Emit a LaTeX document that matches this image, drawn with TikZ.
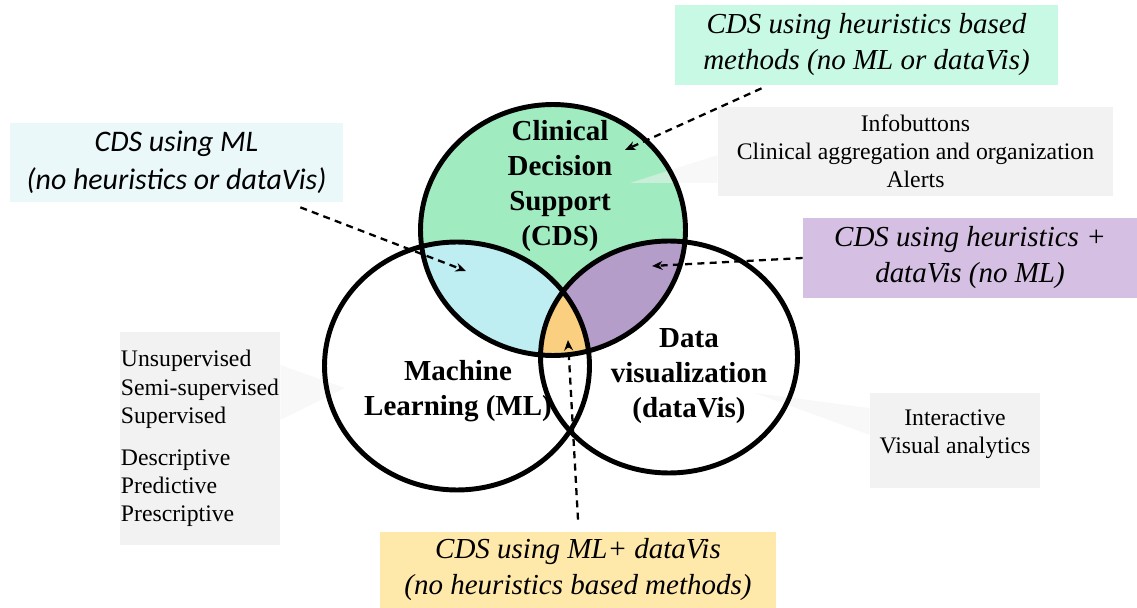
\documentclass[tikz,border=0pt]{standalone}
\usepackage{fontspec}
\setmainfont{Liberation Serif}
\newfontfamily\calibrifont{Carlito}
\usetikzlibrary{arrows.meta}

\definecolor{cdsgreen}{RGB}{160,236,192}
\definecolor{cdscyan}{RGB}{190,237,242}
\definecolor{cdspurple}{RGB}{181,157,201}
\definecolor{cdsorange}{RGB}{250,207,128}
\definecolor{mintbox}{RGB}{200,249,228}
\definecolor{cyanbox}{RGB}{234,248,250}
\definecolor{lilacbox}{RGB}{213,192,227}
\definecolor{sandbox}{RGB}{255,233,170}
\definecolor{boxgrey}{RGB}{242,242,242}

\tikzset{
  venn/.style={line width=2.8pt},
  setname/.style={align=center, font=\fontsize{16.5}{20}\selectfont\bfseries},
  notebox/.style={fill=boxgrey, align=center, inner sep=0pt, font=\fontsize{13.5}{16}\selectfont},
  casebox/.style={align=center, inner sep=0pt, font=\fontsize{16.5}{20.5}\selectfont\itshape},
  hint/.style={dash pattern=on 4pt off 3pt, line width=1.3pt, -{Stealth[length=6pt,width=5pt]}},
  wedge/.style={fill=boxgrey, opacity=.5}
}

\begin{document}
\begin{tikzpicture}[x=0.02cm, y=-0.02cm]
    \useasboundingbox (0,0) rectangle (1137,608);
    % centres of the three sets
    \coordinate (cdsc) at (553,230);
    \coordinate (mlc) at (457,366);
    \coordinate (dvc) at (669,357);

    % region fills
    \fill[cdsgreen] (cdsc) ellipse [x radius=2.65cm, y radius=2.51cm];
    \begin{scope}
        \clip (mlc) ellipse [x radius=2.65cm, y radius=2.48cm];
        \fill[cdscyan] (cdsc) ellipse [x radius=2.65cm, y radius=2.51cm];
    \end{scope}
    \begin{scope}
        \clip (dvc) ellipse [x radius=2.57cm, y radius=2.32cm];
        \fill[cdspurple] (cdsc) ellipse [x radius=2.65cm, y radius=2.51cm];
    \end{scope}
    \begin{scope}
        \clip (mlc) ellipse [x radius=2.65cm, y radius=2.48cm];
        \clip (dvc) ellipse [x radius=2.57cm, y radius=2.32cm];
        \fill[cdsorange] (cdsc) ellipse [x radius=2.65cm, y radius=2.51cm];
    \end{scope}

    % grey boxes with their pointers
    \node[notebox, minimum width=7.9cm, minimum height=1.78cm] (infobox) at (915.5,151.5)
        {Infobuttons\\Clinical aggregation and organization\\Alerts};
    \node[notebox, minimum width=3.2cm, minimum height=4.26cm, align=left] (learnbox) at (200,438.5)
        {Unsupervised\\Semi-supervised\\Supervised\\[8pt]Descriptive\\Predictive\\Prescriptive};
    \node[notebox, minimum width=3.4cm, minimum height=1.9cm] (visbox) at (955,440.5) {};
    \node[align=center, inner sep=0pt, font=\fontsize{13.5}{16}\selectfont] (vistext) at (955,434)
        {Interactive\\Visual analytics};
    \fill[wedge] (infobox.west |- 0,155) -- (630,183) -- (infobox.west |- 0,183) -- cycle;
    \fill[wedge] (learnbox.east |- 0,365) -- (345,388) -- (learnbox.east |- 0,420) -- cycle;
    \fill[wedge] (visbox.west |- 0,408) -- (755,393) -- (visbox.west |- 0,435) -- cycle;

    % outlines
    \draw[venn] (cdsc) ellipse [x radius=2.65cm, y radius=2.51cm];
    \draw[venn] (mlc) ellipse [x radius=2.65cm, y radius=2.48cm];
    \draw[venn] (dvc) ellipse [x radius=2.57cm, y radius=2.32cm];

    \node[setname] (cdsname) at (560,186) {Clinical\\Decision\\Support\\(CDS)};
    \node[setname] (mlname) at (458,391) {Machine\\Learning (ML)};
    \node[setname] (dvname) at (689,376) {Data\\visualization\\(dataVis)};

    % the four cases
    \node[casebox, fill=mintbox, minimum width=7.66cm, minimum height=1.6cm] (topbox) at (866.5,45)
        {CDS using heuristics based\\methods (no ML or dataVis)};
    \node[casebox, fill=cyanbox, minimum width=6.66cm, minimum height=1.58cm,
          font=\fontsize{17}{21.5}\selectfont\calibrifont\itshape] (mlbox) at (176.5,162.5)
        {CDS using ML\\(no heuristics or dataVis)};
    \node[casebox, fill=lilacbox, minimum width=6.68cm, minimum height=1.6cm] (lilacbox) at (970,258)
        {CDS using heuristics +\\dataVis (no ML)};
    \node[casebox, fill=sandbox, minimum width=7.92cm, minimum height=1.52cm] (bottombox) at (578,570)
        {CDS using ML+ dataVis\\(no heuristics based methods)};

    \coordinate (cdsonly) at (625,150);
    \coordinate (cdsml) at (466,271);
    \coordinate (cdsdv) at (652,266);
    \coordinate (allthree) at (568,340);
    \draw[hint] ([xshift=-2.1cm,yshift=-0.06cm]topbox.south) -- (cdsonly);
    \draw[hint] ([xshift=-0.86cm,yshift=-0.1cm]mlbox.south east) -- (cdsml);
    \draw[hint] (lilacbox.west) -- (cdsdv);
    \draw[hint] ([yshift=0.24cm]bottombox.north) -- (allthree);
\end{tikzpicture}
\end{document}
